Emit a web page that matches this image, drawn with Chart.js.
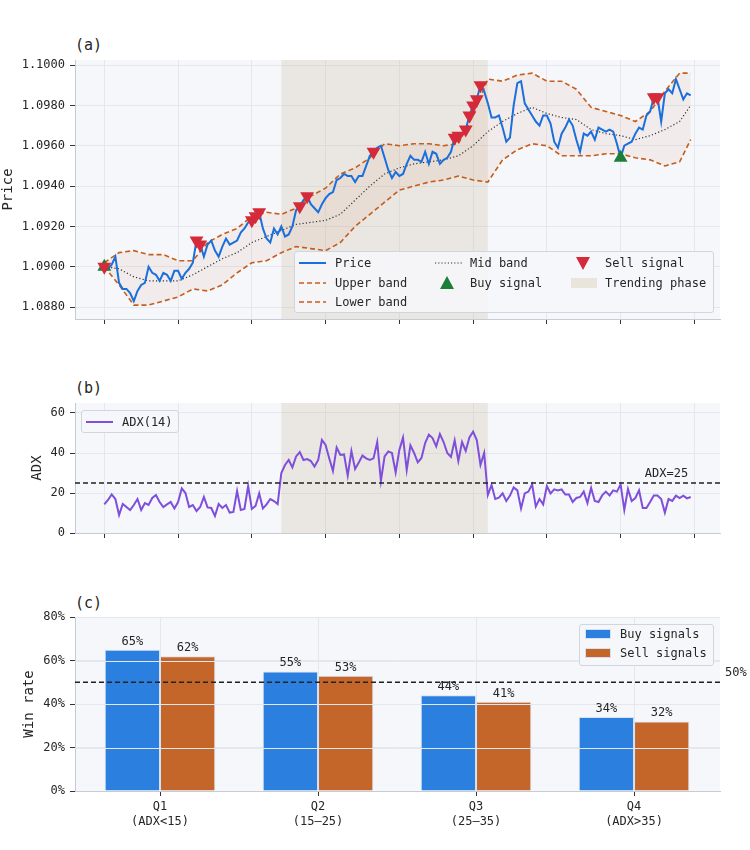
<!DOCTYPE html>
<html>
<head>
<meta charset="utf-8">
<script src="https://cdn.jsdelivr.net/npm/chart.js@4.4.1/dist/chart.umd.min.js"></script>
<style>
  body { margin: 0; background: #fff; font-family: 'DejaVu Sans Mono', monospace; color: #262626; }
  #page { position: relative; width: 750px; height: 850px; }
  canvas { position: absolute; left: 0; }
  .tag { position: absolute; left: 75px; font-size: 15px; line-height: 18px; }
  .legend { position: absolute; box-sizing: border-box; background: rgba(246,247,250,0.88);
            border: 1px solid #cfd6e0; border-radius: 3px; font-size: 12px; }
  .item { position: absolute; height: 14px; line-height: 14px; white-space: pre; }
  .item svg { position: absolute; left: 0; top: 0; }
  .item span { position: absolute; top: 0; }
</style>
</head>
<body>
<div id="page">
  <div class="tag" style="top:36px">(a)</div>
  <div class="tag" style="top:379px">(b)</div>
  <div class="tag" style="top:594px">(c)</div>

  <canvas id="chartA" width="750" height="320" style="top:30px;width:750px;height:320px"></canvas>
  <canvas id="chartB" width="750" height="190" style="top:370px;width:750px;height:190px"></canvas>
  <canvas id="chartC" width="750" height="255" style="top:590px;width:750px;height:255px"></canvas>

  <div class="legend" style="left:294px;top:251px;width:420px;height:62px">
    <div class="item" style="left:4px;top:4px"><svg width="27" height="14"><line x1="0" y1="7" x2="27" y2="7" stroke="#1a6fdc" stroke-width="2"/></svg><span style="left:36px">Price</span></div>
    <div class="item" style="left:4px;top:24px"><svg width="27" height="14"><line x1="0" y1="7" x2="27" y2="7" stroke="#c65d1a" stroke-width="1.6" stroke-dasharray="5,3"/></svg><span style="left:36px">Upper band</span></div>
    <div class="item" style="left:4px;top:43px"><svg width="27" height="14"><line x1="0" y1="7" x2="27" y2="7" stroke="#c65d1a" stroke-width="1.6" stroke-dasharray="5,3"/></svg><span style="left:36px">Lower band</span></div>
    <div class="item" style="left:140px;top:4px"><svg width="27" height="14"><line x1="0" y1="7" x2="27" y2="7" stroke="#333" stroke-width="1.2" stroke-dasharray="1.2,2"/></svg><span style="left:35px">Mid band</span></div>
    <div class="item" style="left:140px;top:24px"><svg width="27" height="14"><polygon points="12,0 19,13 5,13" fill="#1b7f3a"/></svg><span style="left:35px">Buy signal</span></div>
    <div class="item" style="left:276px;top:4px"><svg width="27" height="14"><polygon points="5,1 19,1 12,14" fill="#d42a3a"/></svg><span style="left:34px">Sell signal</span></div>
    <div class="item" style="left:276px;top:24px"><svg width="27" height="14"><rect x="0" y="2" width="26" height="10" fill="rgb(233,229,219)"/></svg><span style="left:34px">Trending phase</span></div>
  </div>

  <div class="legend" style="left:81px;top:410px;width:98px;height:23px">
    <div class="item" style="left:4px;top:4px"><svg width="27" height="14"><line x1="0" y1="7" x2="27" y2="7" stroke="#7f4fdc" stroke-width="2"/></svg><span style="left:36px">ADX(14)</span></div>
  </div>

  <div class="legend" style="left:579px;top:624px;width:135px;height:42px">
    <div class="item" style="left:5px;top:2px"><svg width="27" height="14"><rect x="0.5" y="2.5" width="25" height="9" fill="#2b7fde" stroke="#d6e0ee"/></svg><span style="left:35px">Buy signals</span></div>
    <div class="item" style="left:5px;top:21px"><svg width="27" height="14"><rect x="0.5" y="2.5" width="25" height="9" fill="#c4662a" stroke="#d6e0ee"/></svg><span style="left:35px">Sell signals</span></div>
  </div>
</div>

<script>
// ---- data ----
const price = [
  1.0900, 1.0899, 1.0901, 1.0905, 1.0892, 1.0889, 1.0889, 1.0887, 1.0883, 1.0888,
  1.0891, 1.0892, 1.0900, 1.0897, 1.0896, 1.0893, 1.0897, 1.0896, 1.0893, 1.0898,
  1.0898, 1.0894, 1.0897, 1.0899, 1.0902, 1.0913, 1.0911, 1.0905, 1.0911, 1.0913,
  1.0908, 1.0905, 1.0910, 1.0914, 1.0911, 1.0912, 1.0913, 1.0917, 1.0919, 1.0922,
  1.0923, 1.0925, 1.0927, 1.0919, 1.0914, 1.0912, 1.0919, 1.0916, 1.0920, 1.0915,
  1.0916, 1.0920, 1.0928, 1.0930, 1.0933, 1.0935, 1.0931, 1.0929, 1.0927, 1.0931,
  1.0934, 1.0936, 1.0937, 1.0943, 1.0944, 1.0946, 1.0945, 1.0945, 1.0942, 1.0945,
  1.0945, 1.0950, 1.0955, 1.0957, 1.0959, 1.0960, 1.0954, 1.0948, 1.0944, 1.0947,
  1.0945, 1.0946, 1.0951, 1.0955, 1.0953, 1.0953, 1.0952, 1.0957, 1.0951, 1.0957,
  1.0956, 1.0951, 1.0953, 1.0954, 1.0957, 1.0964, 1.0965, 1.0966, 1.0968, 1.0975,
  1.0980, 1.0983, 1.0990, 1.0987, 1.0981, 1.0974, 1.0974, 1.0975, 1.0969, 1.0962,
  1.0964, 1.0980, 1.0991, 1.0992, 1.0981, 1.0978, 1.0975, 1.0972, 1.0970, 1.0975,
  1.0975, 1.0971, 1.0962, 1.0959, 1.0966, 1.0969, 1.0973, 1.0970, 1.0963, 1.0957,
  1.0966, 1.0965, 1.0967, 1.0963, 1.0969, 1.0968, 1.0967, 1.0968, 1.0967, 1.0961,
  1.0954, 1.0960, 1.0961, 1.0962, 1.0966, 1.0969, 1.0968, 1.0975, 1.0977, 1.0984,
  1.0984, 1.0972, 1.0986, 1.0988, 1.0986, 1.0993, 1.0988, 1.0983, 1.0986, 1.0985
];

// band samples (every 4th bar)
const bandIdx = [0, 4, 8, 12, 16, 20, 24, 28, 32, 36, 40, 44, 48, 52, 56, 60, 64, 68, 72, 76,
  80, 84, 88, 92, 96, 100, 104, 108, 112, 116, 120, 124, 128, 132, 136, 140, 144, 148, 152, 156, 159];
const upperBand = [1.0902, 1.0907, 1.0908, 1.0906, 1.0906, 1.0903, 1.0903, 1.0912, 1.0916, 1.0919,
  1.0925, 1.0927, 1.0926, 1.0929, 1.0935, 1.0939, 1.0946, 1.0949, 1.0954, 1.0961,
  1.0960, 1.0961, 1.0961, 1.0960, 1.0961, 1.0975, 1.0993, 1.0992, 1.0995, 1.0996,
  1.0992, 1.0992, 1.0988, 1.0979, 1.0977, 1.0975, 1.0972, 1.0977, 1.0987, 1.0996, 1.0996];
const lowerBand = [1.0900, 1.0891, 1.0881, 1.0881, 1.0883, 1.0885, 1.0889, 1.0888, 1.0891, 1.0897,
  1.0902, 1.0903, 1.0907, 1.0910, 1.0909, 1.0908, 1.0912, 1.0920, 1.0926, 1.0932,
  1.0938, 1.0940, 1.0942, 1.0943, 1.0945, 1.0943, 1.0942, 1.0953, 1.0958, 1.0961,
  1.0960, 1.0955, 1.0955, 1.0955, 1.0956, 1.0956, 1.0954, 1.0953, 1.0950, 1.0952, 1.0963];
const midBand = [1.0900, 1.0899, 1.0895, 1.0893, 1.0893, 1.0893, 1.0896, 1.0900, 1.0904, 1.0907,
  1.0912, 1.0915, 1.0918, 1.0921, 1.0922, 1.0923, 1.0926, 1.0933, 1.0940, 1.0946,
  1.0949, 1.0951, 1.0952, 1.0953, 1.0955, 1.0960, 1.0967, 1.0972, 1.0976, 1.0979,
  1.0976, 1.0974, 1.0973, 1.0968, 1.0966, 1.0965, 1.0963, 1.0965, 1.0968, 1.0972, 1.0980];

const sellIdx = [0, 25, 26, 40, 41, 42, 53, 55, 73, 95, 96, 98, 99, 100, 101, 102, 149, 150];
const buyIdx = [0, 140];

const trendStart = 48;
const trendEnd = 104;

const adx = [
  14.3, 16.5, 19.3, 17.0, 9.0, 14.5, 13.0, 11.5, 14.0, 17.0,
  11.5, 15.0, 14.0, 17.5, 19.0, 15.5, 13.0, 14.3, 15.5, 12.3,
  15.5, 22.3, 20.0, 13.0, 14.0, 11.0, 13.0, 18.0, 12.8, 12.5,
  8.5, 14.5, 12.5, 14.0, 10.2, 10.5, 21.0, 11.5, 12.0, 23.5,
  12.0, 13.5, 19.8, 12.3, 14.3, 17.0, 16.0, 14.5, 30.0, 34.0,
  36.5, 32.8, 38.3, 40.5, 36.5, 37.0, 36.0, 33.2, 36.5, 46.5,
  44.0, 37.3, 31.0, 42.7, 39.0, 39.3, 28.7, 41.0, 32.0, 35.3,
  38.7, 37.3, 36.5, 37.3, 45.5, 26.0, 38.3, 40.8, 40.0, 30.3,
  41.5, 47.7, 31.5, 43.8, 40.0, 35.3, 37.5, 45.0, 49.2, 47.5,
  43.3, 49.5, 45.5, 40.0, 38.0, 46.3, 36.0, 45.5, 41.0, 47.8,
  50.7, 46.5, 34.0, 40.0, 19.0, 24.0, 17.0, 17.7, 19.8, 16.0,
  18.7, 22.8, 21.3, 12.3, 19.8, 20.7, 24.3, 13.2, 17.0, 14.3,
  23.5, 19.8, 21.8, 21.3, 21.8, 19.2, 19.2, 15.5, 17.5, 18.0,
  20.7, 15.0, 22.5, 16.0, 15.5, 18.8, 20.7, 18.8, 21.3, 20.7,
  24.3, 11.5, 22.0, 16.0, 17.5, 21.3, 12.5, 12.5, 15.5, 18.7,
  18.7, 17.0, 10.2, 17.0, 16.0, 18.7, 17.5, 18.7, 17.3, 18.0
];
const adxThreshold = 25;

const xTicks = [0, 20, 40, 60, 80, 100, 120, 140, 160];
const priceTicks = [1.088, 1.090, 1.092, 1.094, 1.096, 1.098, 1.100];
const adxTicks = [0, 20, 40, 60];

const quartiles = [['Q1', '(ADX<15)'], ['Q2', '(15\u201325)'], ['Q3', '(25\u201335)'], ['Q4', '(ADX>35)']];
const buyWin = [65, 55, 44, 34];
const sellWin = [62, 53, 41, 32];
const winTicks = [0, 20, 40, 60, 80];
const winLine = 50;

// ---- styling ----
Chart.defaults.font.family = "'DejaVu Sans Mono', monospace";
Chart.defaults.font.size = 12;
Chart.defaults.color = '#262626';

const gridColor = '#e4e8ee';
const spineColor = '#c4ccd8';
const plotBg = '#f5f7fa';

const plotBackground = {
  id: 'plotBackground',
  beforeDraw(chart) {
    const { ctx, chartArea: a } = chart;
    ctx.save();
    ctx.fillStyle = plotBg;
    ctx.fillRect(a.left, a.top, a.right - a.left, a.bottom - a.top);
    ctx.restore();
  }
};

const trendShade = {
  id: 'trendShade',
  beforeDatasetsDraw(chart) {
    const { ctx, chartArea: a, scales: { x } } = chart;
    const x0 = x.getPixelForValue(trendStart);
    const x1 = x.getPixelForValue(trendEnd);
    ctx.save();
    ctx.fillStyle = 'rgba(190,170,130,0.2)';
    ctx.fillRect(x0, a.top, x1 - x0, a.bottom - a.top);
    ctx.restore();
  }
};

function hLine(chart, value, label, labelX, align) {
  const { ctx, chartArea: a, scales: { y } } = chart;
  const py = y.getPixelForValue(value);
  ctx.save();
  ctx.strokeStyle = '#222';
  ctx.lineWidth = 1.3;
  ctx.setLineDash([5, 3]);
  ctx.beginPath();
  ctx.moveTo(a.left, py);
  ctx.lineTo(a.right, py);
  ctx.stroke();
  ctx.setLineDash([]);
  ctx.fillStyle = '#262626';
  ctx.font = "12px 'DejaVu Sans Mono'";
  ctx.textAlign = align;
  ctx.textBaseline = 'alphabetic';
  ctx.fillText(label, labelX, py - 6);
  ctx.restore();
}

function xScaleSeries(height) {
  return {
    type: 'linear', min: -7.95, max: 166.95,
    afterBuildTicks: (axis) => { axis.ticks = xTicks.map(v => ({ value: v })); },
    ticks: { display: false },
    grid: { color: gridColor, tickColor: '#333', tickLength: 5, tickWidth: 1 },
    border: { color: spineColor },
    afterFit: (s) => { s.height = height; }
  };
}

const pts = (idx, vals) => idx.map((d, k) => ({ x: d, y: vals[k] }));
const series = (vals) => vals.map((v, i) => ({ x: i, y: v }));

// ---- (a) price with bands ----
new Chart(document.getElementById('chartA'), {
  type: 'line',
  data: {
    datasets: [
      { label: 'Sell signal', data: sellIdx.map(i => ({ x: i, y: price[i] })), showLine: false,
        pointStyle: 'triangle', pointRotation: 180, pointRadius: 8, pointBorderWidth: 0,
        pointBackgroundColor: '#d42a3a', borderColor: '#d42a3a' },
      { label: 'Buy signal', data: buyIdx.map(i => ({ x: i, y: price[i] })), showLine: false,
        pointStyle: 'triangle', pointRadius: 8, pointBorderWidth: 0,
        pointBackgroundColor: '#1b7f3a', borderColor: '#1b7f3a' },
      { label: 'Price', data: series(price), borderColor: '#1a6fdc', borderWidth: 2, pointRadius: 0 },
      { label: 'Mid band', data: pts(bandIdx, midBand), borderColor: '#333', borderWidth: 1.2,
        borderDash: [1.2, 2.2], pointRadius: 0 },
      { label: 'Upper band', data: pts(bandIdx, upperBand), borderColor: '#c65d1a', borderWidth: 1.6,
        borderDash: [5, 3], pointRadius: 0, fill: '+1', backgroundColor: 'rgba(200,100,40,0.07)' },
      { label: 'Lower band', data: pts(bandIdx, lowerBand), borderColor: '#c65d1a', borderWidth: 1.6,
        borderDash: [5, 3], pointRadius: 0 }
    ]
  },
  options: {
    responsive: false, animation: false, events: [],
    layout: { padding: { left: 0, right: 30, top: 30, bottom: 0 } },
    plugins: { legend: { display: false }, tooltip: { enabled: false } },
    scales: {
      x: xScaleSeries(31),
      y: {
        min: 1.08741, max: 1.10025,
        afterBuildTicks: (axis) => { axis.ticks = priceTicks.map(v => ({ value: v })); },
        ticks: { callback: (v) => v.toFixed(4), padding: 5 },
        grid: { color: gridColor, tickColor: '#333', tickLength: 5 },
        border: { color: spineColor },
        title: { display: true, text: 'Price', font: { size: 14 }, padding: { top: 0, bottom: 0 } },
        afterFit: (s) => { s.width = 75; }
      }
    }
  },
  plugins: [plotBackground, trendShade]
});

// ---- (b) ADX ----
new Chart(document.getElementById('chartB'), {
  type: 'line',
  data: {
    datasets: [
      { label: 'ADX(14)', data: series(adx), borderColor: '#7f4fdc', borderWidth: 2, pointRadius: 0 }
    ]
  },
  options: {
    responsive: false, animation: false, events: [],
    layout: { padding: { left: 0, right: 30, top: 33, bottom: 0 } },
    plugins: { legend: { display: false }, tooltip: { enabled: false } },
    scales: {
      x: xScaleSeries(27),
      y: {
        min: 0, max: 65,
        afterBuildTicks: (axis) => { axis.ticks = adxTicks.map(v => ({ value: v })); },
        ticks: { padding: 5 },
        grid: { color: gridColor, tickColor: '#333', tickLength: 5 },
        border: { color: spineColor },
        title: { display: true, text: 'ADX', font: { size: 14 }, padding: { top: 29, bottom: 0 } },
        afterFit: (s) => { s.width = 75; }
      }
    }
  },
  plugins: [plotBackground, trendShade, {
    id: 'adxLine',
    afterDatasetsDraw(chart) {
      hLine(chart, adxThreshold, 'ADX=' + adxThreshold, chart.scales.x.getPixelForValue(158.3), 'right');
    }
  }]
});

// ---- (c) win rate by ADX quartile ----
new Chart(document.getElementById('chartC'), {
  type: 'bar',
  data: {
    datasets: [
      { label: 'Buy signals', data: buyWin.map((v, i) => ({ x: i, y: v })), backgroundColor: '#2b7fde',
        borderColor: 'rgba(214,224,238,0.95)', borderWidth: 1 },
      { label: 'Sell signals', data: sellWin.map((v, i) => ({ x: i, y: v })), backgroundColor: '#c4662a',
        borderColor: 'rgba(214,224,238,0.95)', borderWidth: 1 }
    ]
  },
  options: {
    responsive: false, animation: false, events: [],
    layout: { padding: { left: 0, right: 30, top: 27, bottom: 0 } },
    plugins: { legend: { display: false }, tooltip: { enabled: false } },
    datasets: { bar: { categoryPercentage: 0.7, barPercentage: 1.0 } },
    scales: {
      x: {
        type: 'linear', min: -0.538, max: 3.544, offset: false,
        afterBuildTicks: (axis) => { axis.ticks = quartiles.map((q, i) => ({ value: i })); },
        ticks: { callback: (v, i) => quartiles[i], padding: 4 },
        grid: { color: gridColor, tickColor: '#333', tickLength: 5, offset: false },
        border: { color: spineColor },
        afterFit: (s) => { s.height = 54; }
      },
      y: {
        min: 0, max: 80,
        afterBuildTicks: (axis) => { axis.ticks = winTicks.map(v => ({ value: v })); },
        ticks: { callback: (v) => v + '%', padding: 5 },
        grid: { color: gridColor, tickColor: '#333', tickLength: 5 },
        border: { color: spineColor },
        title: { display: true, text: 'Win rate', font: { size: 14 }, padding: { top: 21, bottom: 0 } },
        afterFit: (s) => { s.width = 75; }
      }
    }
  },
  plugins: [plotBackground, {
    id: 'barLabels',
    afterDatasetsDraw(chart) {
      const { ctx, chartArea: a, scales: { y } } = chart;
      // horizontal grid lines show on top of the bars, as in the reference
      ctx.save();
      ctx.strokeStyle = gridColor;
      ctx.lineWidth = 1;
      winTicks.slice(1).forEach(v => {
        const py = Math.round(y.getPixelForValue(v)) + 0.5;
        ctx.beginPath();
        ctx.moveTo(a.left, py);
        ctx.lineTo(a.right, py);
        ctx.stroke();
      });
      ctx.restore();
      hLine(chart, winLine, winLine + '%', a.right + 5, 'left');
      ctx.save();
      ctx.fillStyle = '#262626';
      ctx.font = "12px 'DejaVu Sans Mono'";
      ctx.textAlign = 'center';
      chart.data.datasets.forEach((ds, di) => {
        chart.getDatasetMeta(di).data.forEach((bar, i) => {
          ctx.fillText(ds.data[i].y + '%', bar.x, bar.y - 5);
        });
      });
      ctx.restore();
    }
  }]
});
</script>
</body>
</html>
